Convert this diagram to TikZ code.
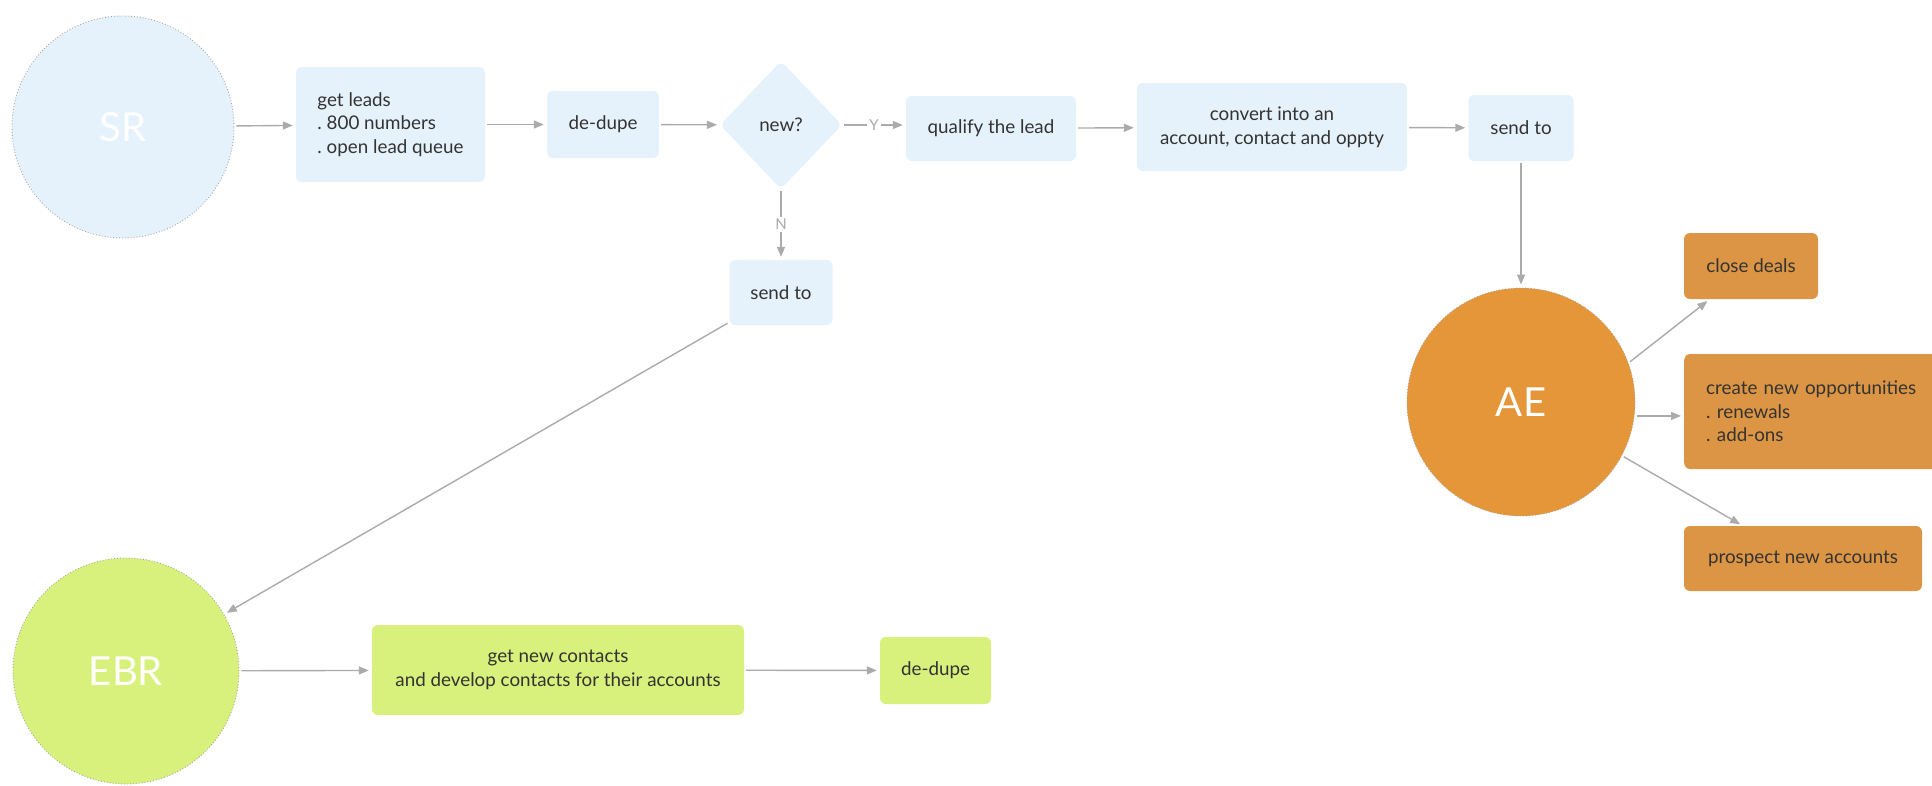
\documentclass[tikz,border=0pt]{standalone}
\usepackage{fontspec}
\setmainfont{Lato}
\frenchspacing
\usetikzlibrary{shapes.geometric,arrows.meta,calc}
\definecolor{paleblue}{HTML}{E6F2FB}
\definecolor{limegreen}{HTML}{D8F07C}
\definecolor{boxorange}{HTML}{DC9544}
\definecolor{aeorange}{HTML}{E59638}
\definecolor{linegrey}{HTML}{ABABAB}
\definecolor{inkgrey}{HTML}{333333}
\begin{document}
\begin{tikzpicture}[x=1pt,y=-1pt,
  txt/.style={font=\fontsize{18.8}{23.5}\selectfont, text=inkgrey},
  box/.style={txt, rectangle, rounded corners=6pt, align=center, inner sep=0pt},
  bluebox/.style={box, fill=paleblue},
  greenbox/.style={box, fill=limegreen},
  orangebox/.style={box, fill=boxorange},
  role/.style={circle, inner sep=0pt, draw=gray!70, dotted, line width=0.9pt,
    text=white, font=\fontsize{40}{40}\selectfont},
  flow/.style={draw=linegrey, line width=1.4pt,
    -{Triangle[length=10pt,width=8pt]}, shorten >=3pt, shorten <=2pt},
  branch/.style={fill=white, inner sep=2pt, text=linegrey,
    font=\fontsize{15}{15}\selectfont}
]
\useasboundingbox[fill=white] (0,0) rectangle (1932,785);

% SR lane
\node[role, fill=paleblue, minimum size=222pt] (SR) at (123,127) {SR};
\node[bluebox, minimum width=189pt, minimum height=115pt, align=left] (leads) at (390.5,124.5)
  {get leads\\. 800 numbers\\. open lead queue};
\node[bluebox, minimum width=112pt, minimum height=67pt] (dedupeA) at (603,124.5) {de-dupe};
\node[txt, diamond, fill=paleblue, minimum width=122pt, minimum height=128pt,
  inner sep=0pt, rounded corners=6pt] (new) at (781,125) {new?};
\node[bluebox, minimum width=170pt, minimum height=65pt] (qualify) at (991,128.5) {qualify the lead};
\node[bluebox, minimum width=270pt, minimum height=88pt] (convert) at (1272,127)
  {convert into an\\account, contact and oppty};
\node[bluebox, minimum width=105pt, minimum height=66pt] (sendAE) at (1521,128) {send to};
\node[bluebox, minimum width=103pt, minimum height=65pt] (sendEBR) at (781,292.5) {send to};

% AE lane
\node[role, fill=aeorange, minimum size=228pt] (AE) at (1521,402) {AE};
\node[orangebox, minimum width=134pt, minimum height=66pt] (close) at (1751,266) {close deals};
\node[orangebox, anchor=west, text width=230pt, inner xsep=22pt, minimum height=115pt,
  align=left] (create) at (1684,411.5)
  {create new opportunities\\. renewals\\. add-ons};
\node[orangebox, minimum width=238pt, minimum height=65pt] (prospect) at (1803,558.5) {prospect new accounts};

% EBR lane
\node[role, fill=limegreen, minimum size=226pt] (EBR) at (126,671) {EBR};
\node[greenbox, minimum width=372pt, minimum height=90pt] (contacts) at (558,670)
  {get new contacts\\and develop contacts for their accounts};
\node[greenbox, minimum width=111pt, minimum height=67pt] (dedupeB) at (935.5,670.5) {de-dupe};

% connectors
\draw[flow] (SR) -- (leads);
\draw[flow] (leads) -- (dedupeA);
\draw[flow] (dedupeA) -- (new);
\draw[flow] (new.east) -- node[branch] {Y} (new.east -| qualify.west);
\draw[flow] (new.south) -- node[branch] {N} (sendEBR.north);
\draw[flow] (qualify) -- (convert);
\draw[flow] (convert) -- (sendAE);
\draw[flow] (sendAE.south) -- (AE.north);
\draw[flow] (sendEBR) -- (EBR);
\draw[flow] (AE.20) -- ([xshift=26pt]close.south west);
\draw[flow] (AE.-7) -- (AE.-7 -| create.west);
\draw[flow] (AE.-28) -- ([xshift=59pt]prospect.north west);
\draw[flow] (EBR) -- (contacts);
\draw[flow] (contacts) -- (dedupeB);
\end{tikzpicture}
\end{document}
